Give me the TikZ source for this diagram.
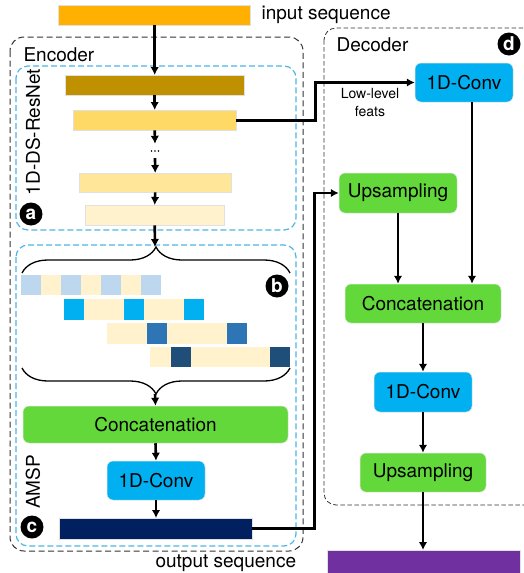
\documentclass[tikz,border=0pt]{standalone}
\usepackage{fontspec}
\setmainfont{TeX Gyre Heros}
\usetikzlibrary{arrows.meta,decorations.pathreplacing}

\definecolor{inOrange}{HTML}{FFB000}
\definecolor{gold1}{HTML}{BF9000}
\definecolor{gold2}{HTML}{FFD966}
\definecolor{gold3}{HTML}{FFE699}
\definecolor{cream}{HTML}{FFF2CC}
\definecolor{paleBlue}{HTML}{BDD7EE}
\definecolor{convCyan}{HTML}{00B0F0}
\definecolor{midBlue}{HTML}{2E75B6}
\definecolor{deepBlue}{HTML}{1F4E79}
\definecolor{navy}{HTML}{002060}
\definecolor{outPurple}{HTML}{7030A0}
\definecolor{opGreen}{HTML}{62D83A}
\definecolor{boxBlue}{HTML}{4DB6E5}

\begin{document}
\begin{tikzpicture}[x=1pt,y=-1pt,
    lbl/.style={font=\fontsize{19}{22}\selectfont},
    bar/.style={draw=black!12, line width=0.4pt, inner sep=0pt, anchor=north west},
    opbox/.style={draw=black!10, line width=0.5pt, rounded corners=6pt, inner sep=0pt, lbl},
    arr/.style={line width=2.6pt, -{Latex[length=8pt,width=8.5pt]}},
    encBox/.style={draw=black!80, line width=1pt, dash pattern=on 6pt off 3.5pt, rounded corners=14pt},
    decBox/.style={draw=black!80, line width=0.8pt, dash pattern=on 4.5pt off 2.5pt, rounded corners=12pt},
    subBox/.style={draw=boxBlue, line width=1.2pt, dash pattern=on 6pt off 3pt, rounded corners=12pt},
    brc/.style={line width=1.3pt, decorate, decoration={brace, amplitude=26pt}}
]
    \newcommand{\seqBar}[6]{
        \node[bar, fill=#2, minimum width=#5pt, minimum height=#6pt] (#1) at (#3,#4) {};
    }
    \newcommand{\badge}[3]{
        \node[circle, fill=black, text=white, minimum size=23pt, inner sep=0pt,
              font=\fontsize{19}{19}\selectfont\bfseries] (#1) at (#2) {#3};
    }
    \clip (0,0) rectangle (524,573);

    % containers
    \draw[encBox] (10,37) rectangle (303,551);
    \draw[subBox] (16,66) rectangle (296,230);
    \draw[subBox] (16,245) rectangle (296,546);
    \draw[decBox] (324,28) rectangle (545,505);

    \node[lbl, anchor=west] (encLbl) at (20,55) {Encoder};
    \node[lbl, anchor=west] (decLbl) at (333,45) {Decoder};
    \node[lbl, rotate=90] (resLbl) at (33,132) {1D-DS-ResNet};
    \node[lbl, rotate=90] (amspLbl) at (33,482) {AMSP};

    % input and backbone
    \seqBar{inSeq}{inOrange}{58}{5}{192}{20}
    \node[lbl, anchor=west] (inLbl) at (258,15) {input sequence};

    \seqBar{b1}{gold1}{65}{75}{179}{20}
    \seqBar{b2}{gold2}{73}{110}{163}{20}
    \seqBar{b3}{gold3}{79}{173}{152}{19}
    \seqBar{b4}{cream}{85}{205}{139}{20}
    \node[minimum width=10pt, minimum height=14pt, inner sep=0pt] (dots) at (155,151) {};
    \foreach \dx in {-3.5,0,3.5}
        \fill (155+\dx,151) circle (0.9pt);

    \draw[arr] (inSeq.south -| b1.north) -- (b1.north);
    \draw[arr] (b1.south) -- (b2.north);
    \draw[arr] (b2.south) -- (dots.north);
    \draw[arr] (dots.south) -- (b3.north);
    \draw[arr] (b3.south) -- (b4.north);

    % multi-scale pooling rows
    \coordinate (brTopTip) at (155,247);
    \draw[arr] (b4.south) -- (brTopTip);
    \draw[brc] (22,273) -- (290,273);
    \foreach \x/\w/\c in {21/20/paleBlue,41/20/cream,61/20/paleBlue,81/20/cream,101/20/paleBlue,121/20/cream,141/20/paleBlue}
        \fill[\c] (\x,275) rectangle ++(\w,20);
    \foreach \x/\w/\c in {64/20/convCyan,84/40/cream,124/20/convCyan,144/40/cream,184/20/convCyan}
        \fill[\c] (\x,299) rectangle ++(\w,21);
    \foreach \x/\w/\c in {107/40/cream,147/20/midBlue,167/60/cream,227/20/midBlue}
        \fill[\c] (\x,323) rectangle ++(\w,21);
    \foreach \x/\w/\c in {150/21/cream,171/20/deepBlue,191/79/cream,270/20/deepBlue}
        \fill[\c] (\x,347) rectangle ++(\w,20);
    \badge{bb}{277,286}{b}

    \draw[brc] (290,368) -- (22,368);
    \coordinate (brBotTip) at (155,394);

    \node[opbox, fill=opGreen, minimum width=265pt, minimum height=37pt] (encCat) at (155.5,424.5) {Concatenation};
    \node[opbox, fill=convCyan, minimum width=98pt, minimum height=39pt] (encConv) at (156,480.5) {1D-Conv};
    \seqBar{encOut}{navy}{59}{518}{193}{21}
    \node[lbl, anchor=west] (outLbl) at (152,563) {output sequence};

    \draw[arr] (brBotTip) -- (encCat.north);
    \draw[arr] (encCat.south) -- (encConv.north);
    \draw[arr] (encConv.south) -- (encConv.south |- encOut.north);

    \badge{ba}{31,214}{a}
    \badge{bc}{32,527}{c}
    \badge{bd}{509,44}{d}

    % decoder
    \node[opbox, fill=convCyan, minimum width=98pt, minimum height=39pt] (decConv1) at (464,82.5) {1D-Conv};
    \node[opbox, fill=opGreen, minimum width=118pt, minimum height=40pt] (up1) at (398,193) {Upsampling};
    \node[opbox, fill=opGreen, minimum width=156pt, minimum height=39pt] (decCat) at (423,303.5) {Concatenation};
    \node[opbox, fill=convCyan, minimum width=98pt, minimum height=40pt] (decConv2) at (423,392) {1D-Conv};
    \node[opbox, fill=opGreen, minimum width=126pt, minimum height=39pt] (up2) at (423,472.5) {Upsampling};
    \seqBar{outSeq}{outPurple}{327}{550}{193}{30}

    \draw[arr] (b2.east) -- ++(79,0) |- (decConv1.west);
    \node[align=center, font=\fontsize{14}{18}\selectfont] (llLbl) at (370,103) {Low-level\\feats};
    \draw[arr] (encOut.east) -- ++(62,0) |- (up1.west);

    \draw[arr] (up1.south) -- (up1.south |- decCat.north);
    \draw[arr] ([xshift=8pt]decConv1.south) -- ([xshift=8pt]decConv1.south |- decCat.north);
    \draw[arr] (decCat.south) -- (decConv2.north);
    \draw[arr] (decConv2.south) -- (up2.north);
    \draw[arr] (up2.south) -- (up2.south |- outSeq.north);
\end{tikzpicture}
\end{document}
